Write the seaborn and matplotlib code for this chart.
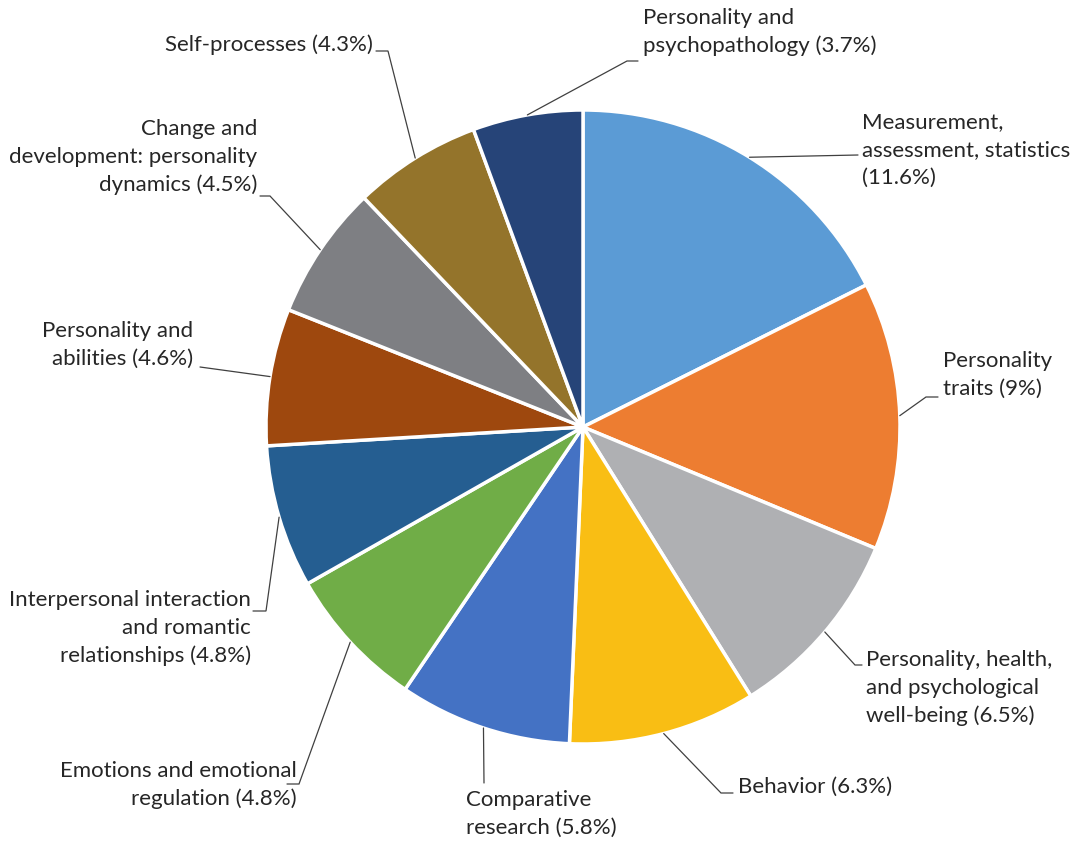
import matplotlib
matplotlib.use("Agg")
import matplotlib.pyplot as plt
import seaborn as sns
import numpy as np

# ---- data ----
categories = [
    "Measurement,\nassessment, statistics\n(11.6%)",
    "Personality\ntraits (9%)",
    "Personality, health,\nand psychological\nwell-being (6.5%)",
    "Behavior (6.3%)",
    "Comparative\nresearch (5.8%)",
    "Emotions and emotional\nregulation (4.8%)",
    "Interpersonal interaction\nand romantic\nrelationships (4.8%)",
    "Personality and\nabilities (4.6%)",
    "Change and\ndevelopment: personality\ndynamics (4.5%)",
    "Self-processes (4.3%)",
    "Personality and\npsychopathology (3.7%)",
]
values = [11.6, 9.0, 6.5, 6.3, 5.8, 4.8, 4.8, 4.6, 4.5, 4.3, 3.7]
colors = ["#5B9BD5", "#ED7D31", "#AFB0B3", "#F9BE14", "#4472C4", "#70AD47",
          "#255E91", "#9E480E", "#7E7F83", "#94742B", "#264478"]

# ---- label layout (pixel coords of figure, y from top) ----
text_pos = [(862, 150), (943, 375), (866, 688), (738, 787), (466, 814),
            (297, 785), (251, 628), (193, 345), (257, 157), (373, 45), (643, 32)]
elbow_pos = [(858, 155), (926, 397), (855, 665), (721, 793), (484, 783),
             (299, 784), (266, 611), (200, 367), (270, 196), (388, 51), (627, 61)]
end_x = [858, 938, 862, 733, 484, 287, 253, 200, 260, 376, 638]
align = ["left", "left", "left", "left", "left", "right", "right", "right",
         "right", "right", "left"]

W, H = 1070, 841
sns.set_theme(style="white")
plt.rcParams['font.family'] = ['Lato', 'DejaVu Sans']

fig = plt.figure(figsize=(W / 100, H / 100), dpi=100)
ax = fig.add_axes([0, 0, 1, 1])
ax.set_xlim(0, W)
ax.set_ylim(0, H)
ax.set_aspect('equal')
ax.axis('off')

cx, cy, r = 583, H - 427, 317
wedges, _ = ax.pie(values, colors=colors, startangle=90, counterclock=False,
                   center=(cx, cy), radius=r,
                   wedgeprops=dict(edgecolor="white", linewidth=2.5))
ax.set_xlim(0, W)
ax.set_ylim(0, H)

for i, w in enumerate(wedges):
    mid = np.deg2rad((w.theta1 + w.theta2) / 2)
    sx, sy = cx + r * np.cos(mid), cy + r * np.sin(mid)
    ex, ey = elbow_pos[i]
    ax.plot([sx, ex, end_x[i]], [sy, H - ey, H - ey], color="#404040", lw=0.9,
            solid_joinstyle="miter")
    tx, ty = text_pos[i]
    ax.text(tx, H - ty, categories[i], ha=align[i], va="center",
            multialignment=align[i], fontsize=16, color="#262626",
            linespacing=1.5)

fig.savefig("out.png", dpi=100, facecolor="white")
